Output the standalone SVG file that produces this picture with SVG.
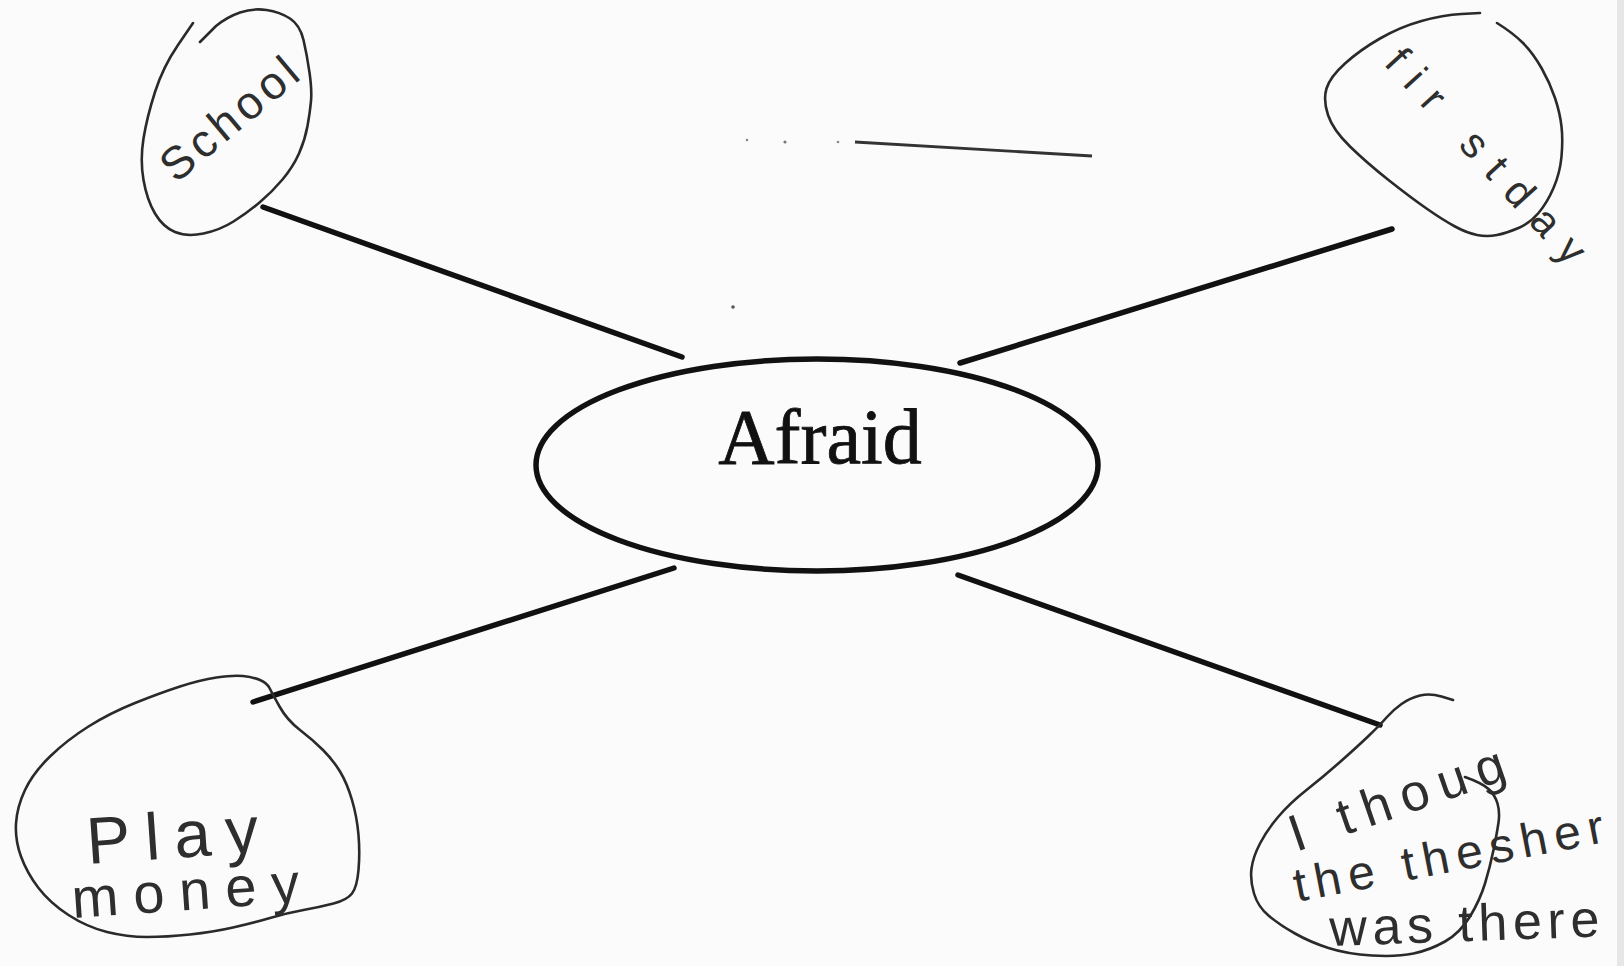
<svg xmlns="http://www.w3.org/2000/svg" width="1624" height="966" viewBox="0 0 1624 966">
<style>
.bg{fill:#fbfbfb}
.blob{fill:none;stroke:#2a2a2a;stroke-width:2.6;stroke-linecap:round;stroke-linejoin:round}
.hand{font-family:"Liberation Sans","DejaVu Sans",sans-serif;fill:#2e2e2e}
.conn{stroke:#111;stroke-width:5.5;stroke-linecap:round}
.center{fill:none;stroke:#111;stroke-width:5.5}
.title{font-family:"Liberation Serif","Times New Roman",serif;font-size:78px;fill:#111;stroke:#111;stroke-width:0.8;text-anchor:middle}
</style>
<rect class="bg" x="0" y="0" width="1624" height="966"/>
<rect x="1617" y="0" width="7" height="966" fill="#e6e6e6"/>
<g id="scan-marks">
<line x1="855" y1="142" x2="1092" y2="156" stroke="#333" stroke-width="2.8"/>
<circle cx="747" cy="140" r="1.3" fill="#888"/>
<circle cx="785" cy="142" r="1.6" fill="#777"/>
<circle cx="838" cy="142" r="1.3" fill="#888"/>
<circle cx="733" cy="307" r="1.8" fill="#555"/>
</g>
<g id="connectors">
<line class="conn" x1="263" y1="207" x2="682" y2="357"/>
<line class="conn" x1="960" y1="363" x2="1392" y2="229"/>
<line class="conn" x1="253" y1="702" x2="674" y2="568"/>
<line class="conn" x1="958" y1="575" x2="1380" y2="725"/>
</g>
<g id="afraid">
<ellipse class="center" cx="817" cy="465" rx="281" ry="106"/>
<text class="title" x="820" y="463">Afraid</text>
</g>
<g id="school">
<path class="blob" d="M193,23 L178,45 Q163,67 155,92 Q147,117 143.5,138.5 Q140,160 143.5,180 Q147,200 155,213.5 Q163,227 175,232 Q187,237 203.5,233.5 Q220,230 233.5,221.5 Q247,213 259.5,202.5 Q272,192 282.5,179.5 Q293,167 299,153.5 Q305,140 307.5,126 Q310,112 311,101 Q312,90 309.5,72.5 Q307,55 303.5,40 Q300,25 290,18.5 Q280,12 266.5,10 Q253,8 240,12.5 Q227,17 216,26 L200,42"/>
<text class="hand" x="176" y="184" font-size="46" textLength="165" transform="rotate(-40 176 184)">School</text>
</g>
<g id="first-day">
<path class="blob" d="M1480,13 L1461.5,14 Q1443,15 1421.5,21 Q1400,27 1380,38.5 Q1360,50 1345,63.5 Q1330,77 1326.5,88.5 Q1323,100 1328,115 Q1333,130 1350,146.5 Q1367,163 1388.5,180 Q1410,197 1426.5,208.5 Q1443,220 1455,226.5 Q1467,233 1477,235 Q1487,237 1497,235 Q1507,233 1518.5,228 Q1530,223 1538.5,213 Q1547,203 1553.5,188 Q1560,173 1561.5,156.5 Q1563,140 1561.5,126.5 Q1560,113 1555,98 Q1550,83 1541.5,68 Q1533,53 1523,43 Q1513,33 1497,23"/>
<text class="hand" x="1383" y="64" font-size="42" textLength="275" transform="rotate(47.6 1383 64)">fir stday</text>
</g>
<g id="play-money">
<path class="blob" d="M269.5,688 Q272,693 279.5,706.5 Q287,720 300,730 Q313,740 323,750 Q333,760 340,771.5 Q347,783 352,800 Q357,817 358.5,835 Q360,853 358.5,870 Q357,887 352,893.5 Q347,900 333.5,903.5 Q320,907 303.5,910 Q287,913 270,918 Q253,923 233,927.5 Q213,932 190,934.5 Q167,937 147,937 Q127,937 107,932 Q87,927 68.5,915 Q50,903 38.5,888 Q27,873 21,856.5 Q15,840 16,823.5 Q17,807 25,790 Q33,773 50,756.5 Q67,740 88.5,726.5 Q110,713 135,703 Q160,693 180,686.5 Q200,680 216.5,677.5 Q233,675 243,676 Q253,677 260,680 Q267,683 269.5,688 Z"/>
<text class="hand" x="88" y="864" font-size="66" textLength="172" transform="rotate(-4 88 864)">Play</text>
<text class="hand" x="73" y="918" font-size="56" textLength="228" transform="rotate(-4 73 918)">money</text>
</g>
<g id="i-thought">
<path class="blob" d="M1453,700 L1441.5,696.5 Q1430,693 1420,695.5 Q1410,698 1401.5,704 Q1393,710 1386.5,717.5 Q1380,725 1368.5,736 Q1357,747 1340,762 Q1323,777 1306.5,790 Q1290,803 1278.5,816.5 Q1267,830 1260,843.5 Q1253,857 1251.5,868.5 Q1250,880 1254,893.5 Q1258,907 1269,916 Q1280,925 1295,933.5 Q1310,942 1328.5,948 Q1347,954 1372,955.5 Q1397,957 1413.5,953.5 Q1430,950 1445,941.5 Q1460,933 1470,916.5 Q1480,900 1485,883.5 Q1490,867 1493.5,850 Q1497,833 1498.5,822.5 Q1500,812 1497.5,803.5 Q1495,795 1488.5,789 Q1482,783 1465,777"/>
<text class="hand" x="1296" y="852" font-size="52" textLength="225" transform="rotate(-19 1296 852)">I thoug</text>
<text class="hand" x="1297" y="902" font-size="48" textLength="315" transform="rotate(-11 1297 902)">the thesher</text>
<text class="hand" x="1330" y="946" font-size="52" textLength="270" transform="rotate(-2 1330 946)">was there</text>
</g>
</svg>
